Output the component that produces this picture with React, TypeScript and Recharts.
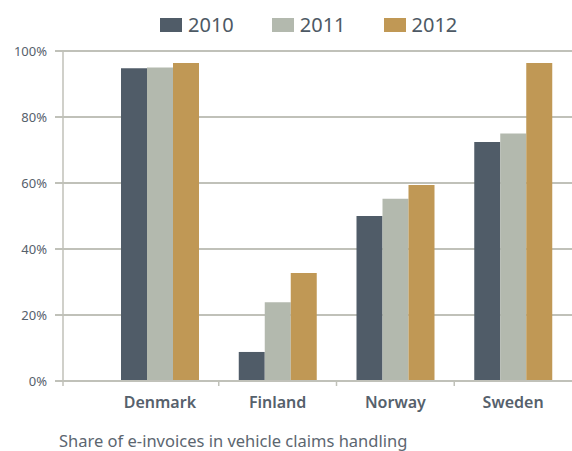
import { BarChart, Bar, XAxis, YAxis, CartesianGrid } from 'recharts'

const countries = ['Denmark', 'Finland', 'Norway', 'Sweden']
const share2010 = [94.8, 8.8, 50.0, 72.4]
const share2011 = [95.0, 23.9, 55.2, 75.0]
const share2012 = [96.4, 32.7, 59.4, 96.4]
const yTicks = [0, 20, 40, 60, 80, 100]

const series = [
  { key: 'y2010', label: '2010', color: '#505c68' },
  { key: 'y2011', label: '2011', color: '#b3b9ae' },
  { key: 'y2012', label: '2012', color: '#c09855' },
]

const data = countries.map((c, i) => ({
  country: c,
  y2010: share2010[i],
  y2011: share2011[i],
  y2012: share2012[i],
}))

const FONT = '"Noto Sans", "Open Sans", sans-serif'
const TEXT = '#56616c'
const GRID = '#c0c1b9'
const PAD_LEFT = 38

function CountryTick(props: any) {
  const { x, y, payload, index } = props
  const off = payload?.offset ?? 59
  const lineX = index === 0 ? x - off - PAD_LEFT : x - off
  return (
    <g>
      <line x1={lineX} x2={lineX} y1={y} y2={y + 5} stroke={GRID} strokeWidth={1.5} />
      <text
        x={x}
        y={y + 27}
        textAnchor="middle"
        fill={TEXT}
        fontSize={16}
        fontWeight={600}
        fontFamily={FONT}
      >
        {payload.value}
      </text>
    </g>
  )
}

export default function App() {
  return (
    <div style={{ position: 'absolute', left: 0, top: 0, width: 572, height: 451, background: '#fff' }}>
      <div
        style={{
          position: 'absolute',
          top: 10,
          left: 160,
          display: 'flex',
          gap: 38,
          fontFamily: FONT,
          fontSize: 20,
          color: '#4d5964',
          lineHeight: '30px',
        }}
      >
        {series.map((s) => (
          <div key={s.key} style={{ display: 'flex', alignItems: 'center' }}>
            <span style={{ display: 'inline-block', width: 22, height: 14, background: s.color, marginRight: 6 }} />
            {s.label}
          </div>
        ))}
      </div>
      <BarChart
        width={572}
        height={451}
        data={data}
        margin={{ top: 51, right: 0, left: 0, bottom: 30 }}
        barCategoryGap={20}
        barGap={0}
      >
        <CartesianGrid vertical={false} stroke={GRID} strokeWidth={2} />
        <XAxis
          dataKey="country"
          height={40}
          padding={{ left: PAD_LEFT, right: 0 }}
          axisLine={{ stroke: GRID, strokeWidth: 2 }}
          tickLine={false}
          tickSize={0}
          tickMargin={0}
          interval={0}
          tick={<CountryTick />}
        />
        <YAxis
          width={63}
          domain={[0, 100]}
          ticks={yTicks}
          tickFormatter={(v) => `${v}%`}
          axisLine={{ stroke: GRID, strokeWidth: 1.5 }}
          tickLine={{ stroke: GRID, strokeWidth: 2 }}
          tickSize={8}
          tickMargin={8}
          tick={{ fontSize: 13, fill: TEXT, fontFamily: FONT }}
        />
        {series.map((s) => (
          <Bar key={s.key} dataKey={s.key} fill={s.color} isAnimationActive={false} />
        ))}
      </BarChart>
      <div
        style={{
          position: 'absolute',
          left: 59,
          top: 429,
          fontFamily: FONT,
          fontSize: 16.5,
          color: '#5c6670',
          whiteSpace: 'nowrap',
        }}
      >
        Share of e-invoices in vehicle claims handling
      </div>
    </div>
  )
}
